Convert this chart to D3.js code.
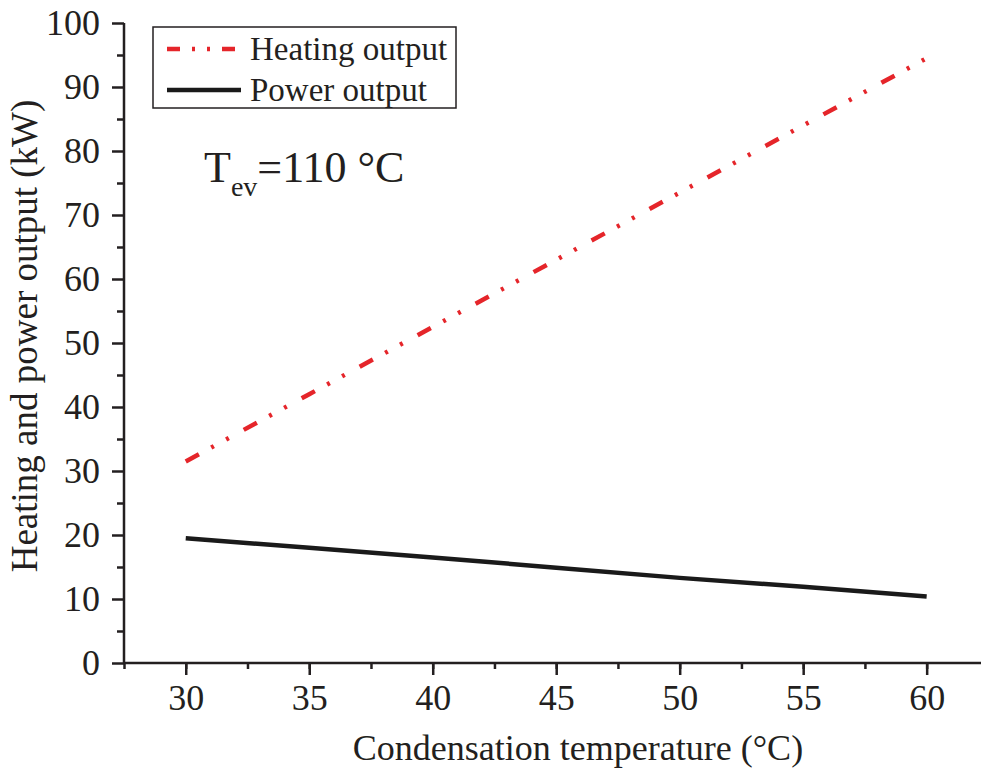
<!DOCTYPE html>
<html>
<head>
<meta charset="utf-8">
<script src="https://cdn.jsdelivr.net/npm/d3@7"></script>
<style>
  body { margin: 0; background: #fff; }
  svg text { font-family: "Liberation Serif", "Times New Roman", serif; fill: #231f20; }
</style>
</head>
<body>
<svg id="plot"></svg>
<script>
// Condensation temperature (°C)
const temps = [30, 35, 40, 45, 50, 55, 60];
// Heating output (kW)
const heating = [31.5, 42.0, 52.5, 63.0, 73.5, 84.0, 94.5];
// Power output (kW)
const power = [19.5, 18.0, 16.5, 14.9, 13.3, 11.9, 10.4];

const xTicks = [30, 35, 40, 45, 50, 55, 60];
const yTicks = [0, 10, 20, 30, 40, 50, 60, 70, 80, 90, 100];

const width = 981, height = 772;
const svg = d3.select("#plot").attr("width", width).attr("height", height);

// Scales
const x = d3.scaleLinear().domain([27.5, 62.2]).range([124, 981]);
const y = d3.scaleLinear().domain([0, 100]).range([663, 23]);

const axisColor = "#231f20";

// X axis with major and minor ticks
const xAxis = svg.append("g").attr("transform", "translate(0," + y(0) + ")");
xAxis.call(d3.axisBottom(x).tickValues(d3.range(27.5, 62.3, 2.5)).tickSize(6).tickFormat(""));
xAxis.selectAll(".tick line").attr("stroke-width", 2.5).attr("stroke", axisColor);
xAxis.select(".domain").attr("stroke-width", 2.5).attr("stroke", axisColor)
  .attr("d", "M" + x(27.5) + ",0H" + width);
const xMajor = svg.append("g").attr("transform", "translate(0," + y(0) + ")");
xMajor.call(d3.axisBottom(x).tickValues(xTicks).tickSize(12).tickPadding(9));
xMajor.select(".domain").remove();
xMajor.selectAll(".tick line").attr("stroke-width", 2.5).attr("stroke", axisColor);
xMajor.selectAll(".tick text").attr("font-size", 36).style("font-family", "Liberation Serif");

// Y axis with major and minor ticks
const yAxis = svg.append("g").attr("transform", "translate(" + x(27.5) + ",0)");
yAxis.call(d3.axisLeft(y).tickValues(d3.range(5, 100, 10)).tickSize(7).tickFormat(""));
yAxis.selectAll(".tick line").attr("stroke-width", 2.5).attr("stroke", axisColor);
yAxis.select(".domain").attr("stroke-width", 2.5).attr("stroke", axisColor)
  .attr("d", "M0," + y(0) + "V" + y(100));
const yMajor = svg.append("g").attr("transform", "translate(" + x(27.5) + ",0)");
yMajor.call(d3.axisLeft(y).tickValues(yTicks).tickSize(12).tickPadding(12));
yMajor.select(".domain").remove();
yMajor.selectAll(".tick line").attr("stroke-width", 2.5).attr("stroke", axisColor);
yMajor.selectAll(".tick text").attr("font-size", 36).style("font-family", "Liberation Serif");

// Lines
const line = d3.line().x((d, i) => x(temps[i])).y(d => y(d));

svg.append("path")
  .datum(heating)
  .attr("d", line)
  .attr("fill", "none")
  .attr("stroke", "#e5252a")
  .attr("stroke-width", 4.5)
  .attr("stroke-dasharray", "15,14,3,14,3,17");

svg.append("path")
  .datum(power)
  .attr("d", line)
  .attr("fill", "none")
  .attr("stroke", "#1a1a1a")
  .attr("stroke-width", 4.5);

// Axis titles
svg.append("text")
  .attr("x", 578).attr("y", 760)
  .attr("text-anchor", "middle")
  .attr("font-size", 36)
  .text("Condensation temperature (°C)");

svg.append("text")
  .attr("transform", "translate(37,336) rotate(-90)")
  .attr("text-anchor", "middle")
  .attr("font-size", 37)
  .text("Heating and power output (kW)");

// Legend
const legend = svg.append("g");
legend.append("rect")
  .attr("x", 153).attr("y", 27).attr("width", 303).attr("height", 81)
  .attr("fill", "#fff").attr("stroke", axisColor).attr("stroke-width", 1.5);
const legendItems = [
  { label: "Heating output", color: "#e5252a", dash: "13,12,3,12,3,12" },
  { label: "Power output", color: "#1a1a1a", dash: null }
];
legendItems.forEach((d, i) => {
  const ly = 49 + i * 41;
  legend.append("line")
    .attr("x1", 167).attr("x2", 241).attr("y1", ly).attr("y2", ly)
    .attr("stroke", d.color).attr("stroke-width", 4.5)
    .attr("stroke-dasharray", d.dash);
  legend.append("text")
    .attr("x", 250).attr("y", ly + 11)
    .attr("font-size", 33)
    .text(d.label);
});

// Annotation
const note = svg.append("text").attr("x", 204).attr("y", 182).attr("font-size", 44);
note.append("tspan").text("T");
note.append("tspan").attr("font-size", 28).attr("dy", 14).text("ev");
note.append("tspan").attr("dy", -14).text("=110 °C");
</script>
</body>
</html>
